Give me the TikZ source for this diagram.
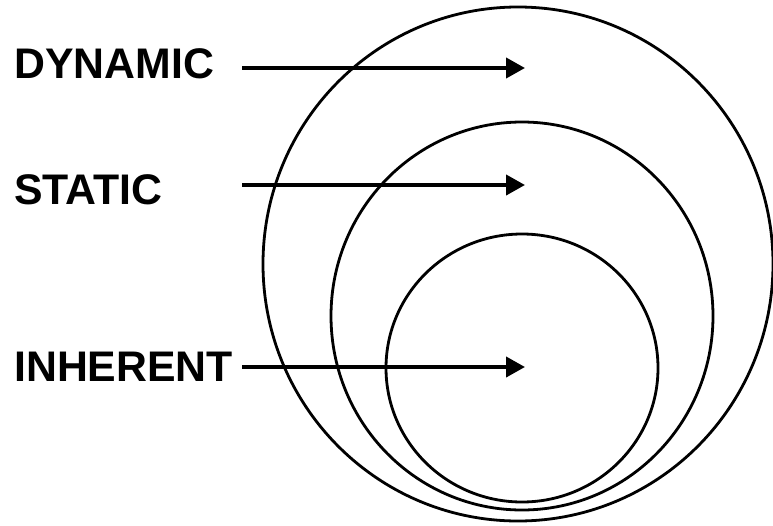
\documentclass[tikz,border=0pt]{standalone}
\usepackage{fontspec}
\setmainfont{Liberation Sans}
\usetikzlibrary{arrows.meta}
\begin{document}
\begin{tikzpicture}[x=1pt,y=-1pt,
  ring/.style={draw=black,line width=2.8pt},
  lbl/.style={font=\fontsize{42.8}{45}\selectfont\bfseries,anchor=west,inner sep=0pt},
  pointer/.style={line width=4pt,-{Triangle[length=19pt,width=20pt]}}]
\useasboundingbox (0,0) rectangle (773,525);
\draw[ring] (518,264) ellipse [x radius=255, y radius=257];
\draw[ring] (522,316) ellipse [x radius=191, y radius=194];
\draw[ring] (522,368) ellipse [x radius=136, y radius=134];
\node[lbl] (dyn) at (14,64) {DYNAMIC};
\node[lbl] (sta) at (14,190) {STATIC};
\node[lbl] (inh) at (14,367) {INHERENT};
\coordinate (d1) at (242,68); \coordinate (d2) at (525,68);
\coordinate (s1) at (242,185); \coordinate (s2) at (525,185);
\coordinate (i1) at (242,367); \coordinate (i2) at (525,367);
\draw[pointer] (d1) -- (d2);
\draw[pointer] (s1) -- (s2);
\draw[pointer] (i1) -- (i2);
\end{tikzpicture}
\end{document}
